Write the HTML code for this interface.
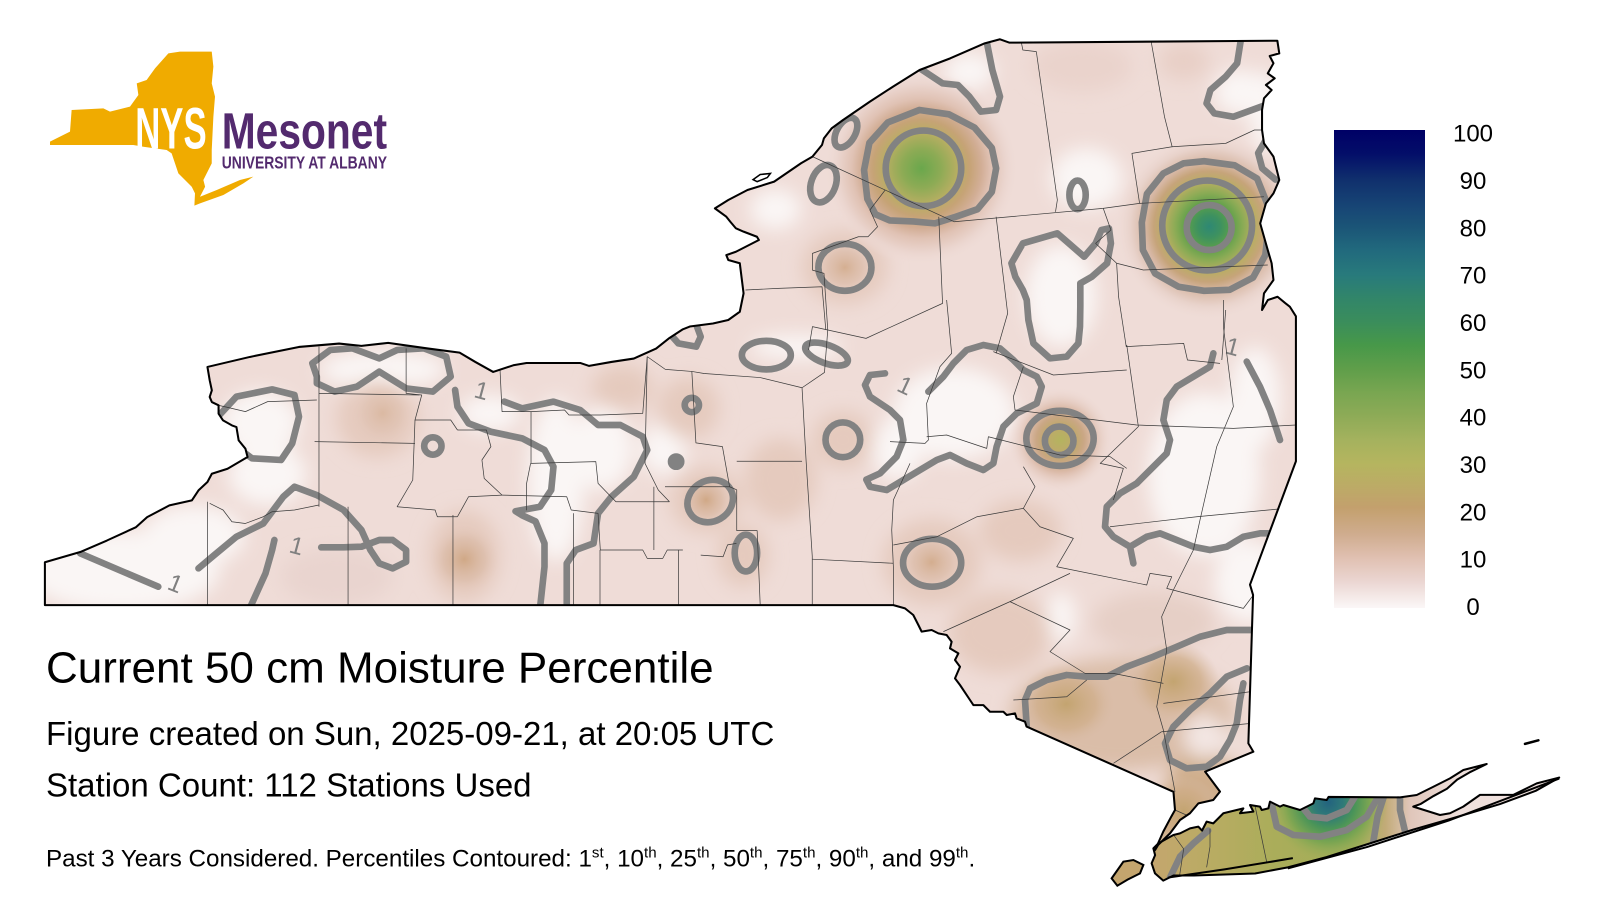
<!DOCTYPE html>
<html><head><meta charset="utf-8"><style>
html,body{margin:0;padding:0;background:#fff;}
svg{display:block;}
.ct{fill:none;stroke:#828282;stroke-width:6.5;stroke-linecap:round;stroke-linejoin:round;}
.cl{fill:none;stroke:#3a3a3a;stroke-width:0.7;stroke-linejoin:round;}
.lb{fill:#808080;font-family:"Liberation Sans",sans-serif;font-size:24px;}
</style></head><body>
<svg width="1600" height="900" viewBox="0 0 1600 900" xmlns="http://www.w3.org/2000/svg">
<defs>
<linearGradient id="cbar" x1="0" y1="0" x2="0" y2="1">
<stop offset="0" stop-color="#000066"/>
<stop offset="0.05" stop-color="#030e69"/>
<stop offset="0.105" stop-color="#10306d"/>
<stop offset="0.16" stop-color="#174575"/>
<stop offset="0.204" stop-color="#1b5577"/>
<stop offset="0.25" stop-color="#21697d"/>
<stop offset="0.3025" stop-color="#287a7c"/>
<stop offset="0.35" stop-color="#31856a"/>
<stop offset="0.40" stop-color="#3a8d5c"/>
<stop offset="0.45" stop-color="#479849"/>
<stop offset="0.5" stop-color="#5f9e4a"/>
<stop offset="0.55" stop-color="#79a651"/>
<stop offset="0.6" stop-color="#8eab57"/>
<stop offset="0.65" stop-color="#a5b25e"/>
<stop offset="0.6975" stop-color="#b5b55f"/>
<stop offset="0.745" stop-color="#bcab66"/>
<stop offset="0.79" stop-color="#c3a06d"/>
<stop offset="0.845" stop-color="#cfac8e"/>
<stop offset="0.895" stop-color="#e0c0b1"/>
<stop offset="0.945" stop-color="#ebd6d2"/>
<stop offset="1" stop-color="#fbf7f7"/>
</linearGradient>
<clipPath id="mclip"><path id="mainP" d="M44,551 L78.6,541 104.8,529.7 133.3,516.6 144.2,506.8 166,495.3 188,490.4 194.5,480.6 203.3,472.4 207.6,464.3 223,459.4 242.6,447.9 240.5,439.7 233.9,431.6 231.7,418.5 227.3,416.9 218.6,412 214.2,405.4 214.2,397.2 207.6,394 205.5,389 207.6,382.5 205.5,372.7 203.3,359.6 244.8,349.8 292.9,340 332.3,336.7 354.2,339 380.4,336 419.8,341.6 450.4,345.6 465.8,354.7 483.3,364.5 503,358 516,355.7 568.6,355.7 577.3,358.6 599.2,354.7 621.1,351.4 643,341.6 656.1,331.2 669.2,322.7 676,320 698.7,317 713.7,313.6 725,305.5 728.7,287.5 725,258 713.7,254.8 711.8,250 721.2,246.7 743.7,235.2 741.8,232 728.7,227 721.2,223.8 715.6,217.2 711.8,212.4 700.6,204.2 713.7,196 732.5,186.2 758.7,178 785,160 796.2,153.5 805.6,142 807.4,135.6 815,125.8 826.2,117.6 852.5,99.6 875,85 901.2,68.6 931.2,57.2 965,42.5 980,38.5 989.3,41.8 1251.8,39.9 1253.7,52.3 1244.3,54.9 1248,62 1242.4,71.9 1249.2,76.8 1240.6,83.3 1246.2,88.2 1238.7,96.4 1236.8,107.8 1236.8,127.4 1238.7,140.5 1248,153.5 1253.7,176.4 1248,189.5 1240.6,199.3 1235,218.9 1238.7,232 1242.4,245 1246.2,258 1248,274.4 1238.7,287.5 1236.8,303.8 1242.5,294 1252,290.8 1259.5,297 1264,300.5 1270,310 1270,452 1225,573 1228,583 1223.4,728.5 1228.3,736.7 1181,756.2 1195.6,775.8 1189,784 1174.4,787.3 1166.2,797 1156.4,803.6 1146.6,816.7 1135,828 1132,833 1140,815 1148,800 1151.5,793.8 1150,776 1006,712 1004.5,707.3 996.3,704 994.7,699.1 986.6,700.7 983.3,697.5 970.2,697.5 963.7,691 953.9,691 950.6,686 940.8,671.3 935.9,664.8 940.8,653.4 935.9,646.8 939.2,640.3 931,635.4 932.6,628.9 927.7,622.3 919.6,620.7 913,617.4 903.2,619 900,612.5 895,602.7 886.9,596.2 875.5,593 44,593 Z"/></clipPath>
<clipPath id="liclip"><path id="liP" d="M1130.3,831.4 L1135.2,826.5 1149.9,818.3 1156.4,816.7 1166.2,811.8 1174.4,810.1 1178,814 1182.5,805.2 1189,806.9 1198.9,797 1218.5,792.2 1215.2,797 1228.3,795.4 1225,788.9 1234.8,790.5 1236.5,793.8 1243,792.2 1244.6,785.6 1254.4,790.5 1257.7,788.9 1274,793.8 1287.1,787.3 1288.7,782.4 1300.2,784 1302,781 1372,781.4 1388.4,779.1 1404.7,771 1421,762.8 1434.1,754.6 1457,748.7 1440,757 1428,764 1418,773 1405,780 1392,788 1385,790.5 1411.2,798.7 1421,797 1434,790.5 1450.4,779 1483,779 1506,767.7 1528,762 1505,775 1470,788 1420,803 1385,813 1342.6,826.5 1300,840 1262,850 1230,856 1200,857 1170,858 1150,858 1140,863 1131.9,855.9 1128.6,846 1132,838 Z"/></clipPath>
<filter id="blur" filterUnits="userSpaceOnUse" x="0" y="0" width="1568" height="882"><feGaussianBlur stdDeviation="9"/></filter>
<radialGradient id="g1" gradientUnits="userSpaceOnUse" cx="903" cy="165" r="95">
<stop offset="0" stop-color="#6aa74c"/><stop offset="0.2" stop-color="#8dab55"/><stop offset="0.38" stop-color="#b9ae63"/><stop offset="0.5" stop-color="#c6a376"/><stop offset="0.62" stop-color="#d2ae96"/><stop offset="0.72" stop-color="#e0c2b4"/><stop offset="0.86" stop-color="#ead4cd"/><stop offset="1" stop-color="#efdcd7" stop-opacity="0"/>
</radialGradient>
<radialGradient id="g2" gradientUnits="userSpaceOnUse" cx="1185" cy="222" r="92">
<stop offset="0" stop-color="#2e8874"/><stop offset="0.12" stop-color="#3d9160"/><stop offset="0.24" stop-color="#5c9f4a"/><stop offset="0.36" stop-color="#8aab55"/><stop offset="0.48" stop-color="#b8ae62"/><stop offset="0.59" stop-color="#c6a47a"/><stop offset="0.68" stop-color="#d6b6a2"/><stop offset="0.84" stop-color="#e8d2ca"/><stop offset="1" stop-color="#efdcd7" stop-opacity="0"/>
</radialGradient>
<radialGradient id="g3" gradientUnits="userSpaceOnUse" cx="1039" cy="431" r="52">
<stop offset="0" stop-color="#b4b45e"/><stop offset="0.28" stop-color="#bfa86c"/><stop offset="0.45" stop-color="#caa785"/><stop offset="0.62" stop-color="#dcbcab"/><stop offset="1" stop-color="#efdcd7" stop-opacity="0"/>
</radialGradient>
<radialGradient id="gli" gradientUnits="userSpaceOnUse" cx="1302" cy="786" r="58">
<stop offset="0" stop-color="#23637f"/><stop offset="0.25" stop-color="#2f7a78"/><stop offset="0.45" stop-color="#4a9458"/><stop offset="0.7" stop-color="#7ea652"/><stop offset="1" stop-color="#9fae58" stop-opacity="0"/>
</radialGradient>
<linearGradient id="lig" gradientUnits="userSpaceOnUse" x1="1130" y1="0" x2="1530" y2="0">
<stop offset="0" stop-color="#c4a66e"/><stop offset="0.15" stop-color="#b8ac62"/><stop offset="0.3" stop-color="#aaad5a"/><stop offset="0.5" stop-color="#a2ae58"/><stop offset="0.57" stop-color="#c2ab78"/><stop offset="0.63" stop-color="#e0c6ba"/><stop offset="0.75" stop-color="#eedfdb"/><stop offset="1" stop-color="#f2e4e1"/>
</linearGradient>
<radialGradient id="tan" cx="0.5" cy="0.5" r="0.5"><stop offset="0" stop-color="#d0a886"/><stop offset="0.6" stop-color="#d9b9a4" stop-opacity="0.6"/><stop offset="1" stop-color="#e5cabe" stop-opacity="0"/></radialGradient>
<radialGradient id="tan2" cx="0.5" cy="0.5" r="0.5"><stop offset="0" stop-color="#c3a470"/><stop offset="0.6" stop-color="#cfad88" stop-opacity="0.7"/><stop offset="1" stop-color="#d8bba6" stop-opacity="0"/></radialGradient>
</defs>
<rect x="0" y="0" width="1600" height="900" fill="#fff"/>
<g transform="scale(1.020408)">
<!-- Logo -->
<path d="M49,138.8 L68.6,129 70.2,107.8 101.3,106.2 107.8,109.4 127.4,104.5 135.6,93.1 134,81.7 143.7,78.4 151.9,67 165,52.3 176.4,50.6 207.5,50.6 209.1,65.3 207.5,81.7 210.7,94.7 209.1,114.4 207.5,147 207.5,160.1 199.3,176.4 201,183 196,192.8 212.4,186.2 235.2,176.4 248.3,173.1 238.5,179.7 218.9,191.1 196,199.3 190.5,201.5 191.1,189.5 187.9,183 174.8,169.9 168.2,150.3 163.3,147 140.5,143.8 130.7,142.1 65.3,142.1 49,142.1 Z" fill="#f0ab00"/>
<text x="132.5" y="145.4" font-family="Liberation Sans,sans-serif" font-weight="bold" font-size="57" fill="#fff" textLength="70" lengthAdjust="spacingAndGlyphs">NYS</text>
<text x="217.3" y="145.4" font-family="Liberation Sans,sans-serif" font-weight="bold" font-size="50" fill="#532a6e" textLength="162" lengthAdjust="spacingAndGlyphs">Mesonet</text>
<text x="217.3" y="165" font-family="Liberation Sans,sans-serif" font-weight="bold" font-size="17.5" fill="#532a6e" textLength="162" lengthAdjust="spacingAndGlyphs">UNIVERSITY AT ALBANY</text>

<!-- Mainland fill -->
<g clip-path="url(#mclip)">
<rect x="0" y="0" width="1568" height="882" fill="#efdcd7"/>
<g filter="url(#blur)">
<g fill="#faf6f5">
<ellipse cx="120" cy="560" rx="95" ry="40"/><ellipse cx="255" cy="415" rx="38" ry="32"/><ellipse cx="375" cy="362" rx="62" ry="18"/>
<ellipse cx="545" cy="470" rx="28" ry="80"/><ellipse cx="480" cy="405" rx="30" ry="18"/><ellipse cx="190" cy="525" rx="50" ry="30"/>
<ellipse cx="650" cy="440" rx="22" ry="25"/><ellipse cx="935" cy="405" rx="60" ry="45"/><ellipse cx="880" cy="440" rx="25" ry="30"/>
<ellipse cx="1040" cy="290" rx="35" ry="50"/><ellipse cx="1180" cy="465" rx="55" ry="80"/><ellipse cx="1225" cy="570" rx="35" ry="40"/>
<ellipse cx="1215" cy="90" rx="25" ry="22"/><ellipse cx="950" cy="70" rx="25" ry="18"/><ellipse cx="1065" cy="175" rx="35" ry="30"/>
<ellipse cx="1040" cy="605" rx="14" ry="25"/><ellipse cx="1180" cy="720" rx="22" ry="25"/><ellipse cx="760" cy="205" rx="25" ry="20"/>
<ellipse cx="590" cy="440" rx="30" ry="40"/><ellipse cx="1230" cy="390" rx="25" ry="50"/><ellipse cx="780" cy="340" rx="45" ry="12"/>
<ellipse cx="262" cy="465" rx="38" ry="30"/><ellipse cx="1240" cy="110" rx="15" ry="40"/>
</g>
<g fill="#e5cabe">
<ellipse cx="370" cy="410" rx="40" ry="38"/><ellipse cx="455" cy="545" rx="35" ry="45"/><ellipse cx="692" cy="490" rx="35" ry="32"/>
<ellipse cx="675" cy="400" rx="30" ry="30"/><ellipse cx="610" cy="380" rx="30" ry="22"/><ellipse cx="828" cy="262" rx="42" ry="36"/>
<ellipse cx="826" cy="431" rx="30" ry="28"/><ellipse cx="913" cy="551" rx="48" ry="42"/><ellipse cx="765" cy="470" rx="35" ry="40"/>
<ellipse cx="728" cy="545" rx="25" ry="30"/><ellipse cx="1000" cy="520" rx="40" ry="30"/><ellipse cx="980" cy="620" rx="50" ry="40"/>
</g>
<ellipse cx="1060" cy="65" rx="50" ry="25" fill="#ead3cc"/><ellipse cx="1160" cy="60" rx="25" ry="18" fill="#e8cfc6"/>
<ellipse cx="330" cy="565" rx="55" ry="28" fill="#e9d4cf"/><ellipse cx="1130" cy="610" rx="60" ry="30" fill="#e6cfc6"/>
<ellipse cx="1100" cy="700" rx="110" ry="55" fill="#dabda8"/><ellipse cx="1180" cy="785" rx="40" ry="50" fill="#cfae8c"/>
<ellipse cx="1140" cy="805" rx="20" ry="22" fill="#c9a97a"/><ellipse cx="1180" cy="722" rx="20" ry="22" fill="#f3e6e3"/>
</g>
<ellipse cx="455" cy="548" rx="34" ry="34" fill="url(#tan)"/>
<ellipse cx="692" cy="490" rx="26" ry="26" fill="url(#tan)"/>
<ellipse cx="828" cy="262" rx="28" ry="26" fill="url(#tan)" opacity="0.8"/>
<ellipse cx="913" cy="551" rx="30" ry="28" fill="url(#tan)" opacity="0.85"/>
<ellipse cx="375" cy="405" rx="30" ry="30" fill="url(#tan)" opacity="0.5"/>
<ellipse cx="1045" cy="690" rx="48" ry="40" fill="url(#tan2)"/>
<ellipse cx="1150" cy="668" rx="45" ry="40" fill="url(#tan2)"/>
<ellipse cx="1160" cy="795" rx="35" ry="35" fill="url(#tan2)"/>
<circle cx="903" cy="165" r="95" fill="url(#g1)"/>
<circle cx="1185" cy="222" r="92" fill="url(#g2)"/>
<circle cx="1039" cy="431" r="52" fill="url(#g3)"/>
</g>
<!-- Staten & LI fill -->
<path d="M1089.4,860.8 L1100.9,844.4 1110.7,842.8 1120.5,847.7 1117.2,855.9 1105,862 1095,868 Z" fill="#c4a56e"/>
<g clip-path="url(#liclip)">
<rect x="1120" y="740" width="420" height="130" fill="url(#lig)"/>
<circle cx="1302" cy="786" r="58" fill="url(#gli)"/>
</g>

<!-- Contours -->
<g clip-path="url(#mclip)">
<g class="ct">
<polyline points="78.6,542.3 155.1,575"/>
<polyline points="194.5,557 210,544 231.7,526 258,513 277.6,486.8 288.6,477 310.5,485.2 336.7,499.8 354.2,519.4 363,539 371.7,552.1 384.8,557 398,550.5 398,539 384.8,529.2 371.7,529.2 354.2,535.8 336.7,536.4 314.8,536.4"/>
<polyline points="244.8,596 260.2,561.9 266.7,539 268.9,529.2"/>
<polygon points="310.5,369.1 306.1,356 323.6,343 345.5,341.4 371.7,351.2 389.2,343 415.5,341.4 437.3,349.5 441.7,369.1 424.2,383.8 398,380.6 371.7,364.2 349.8,378.9 328,383.8 310.5,375.6"/>
<polyline points="212,410 231.7,388.7 266.7,381.6 288.6,387.1 293,408.3 286.4,434.5 275.5,450.8 247,449.2 240,444"/>
<circle cx="424.2" cy="437.1" r="8.5"/>
<polyline points="446,382.2 448.3,398.5 459.2,414.9 481.1,423.1 511.7,429.6 533.6,441 542.4,457.4 540.2,480.2 529.2,496.6 511.7,499.8 505.2,501 511.7,505 524.8,511 533.6,532.5 533.6,555.4 529.2,596"/>
<polyline points="494.2,393.6 511.7,400.2 542.4,393.6 568.6,401.8 586.1,416.5 608,416.5 629.9,428 634.3,441 621.1,467.2 599.2,486.8 586.1,503.1 581.7,532.5 564.2,539 555.4,552.1 555.4,596"/>
<circle cx="662.6" cy="452.4" r="5" fill="#828282"/>
<circle cx="678" cy="396.9" r="7"/>
<ellipse cx="696" cy="491" rx="23" ry="20" transform="rotate(-30 696 491)"/>
<polyline points="656.1,326.7 664.8,336.5 682.3,339.7 686.7,330 682.3,318"/>
<ellipse cx="731" cy="542" rx="11" ry="18"/>
<circle cx="826" cy="431" r="17"/>
<ellipse cx="913.5" cy="551.5" rx="28.5" ry="23.5"/>
<ellipse cx="751" cy="348" rx="24" ry="14"/>
<ellipse cx="810" cy="347" rx="22" ry="9" transform="rotate(20 810 347)"/>
<ellipse cx="828" cy="262" rx="26" ry="23"/>
<ellipse cx="807" cy="180" rx="12" ry="19" transform="rotate(20 807 180)"/>
<ellipse cx="829" cy="130" rx="9" ry="16" transform="rotate(30 829 130)"/>
<circle cx="905" cy="165" r="37"/>
<polygon points="901,107.8 930,112 955,125 972,145 976.2,165 972,188 958,205 935,213 916.2,218.9 895,217 872,216 858,210 850,195 846.8,166.6 852,140 870,120"/>
<polyline points="900,66 923.7,81.7 938.7,83.3 950,94.7 961.2,109.4 976.2,107.8 980,94.7 972.5,68.6 966.8,40"/>
<ellipse cx="1056" cy="191" rx="8" ry="14"/>
<polygon points="991.2,258 1002.4,238.5 1036.2,228.7 1047.5,238.5 1062.5,251.6 1073.7,238.5 1079.4,225.4 1086.8,223.8 1088.7,238.5 1085,258 1070,271.2 1058.7,277.7 1058.7,300.6 1058.4,320 1056.8,336.5 1045.4,349.5 1029,351.2 1012.7,336.5 1007.8,313.6 1006.2,294 1002.4,284.2 995,271.2"/>
<polyline points="1216.2,38 1212.4,62 1201.2,75.1 1186.2,88.2 1182.4,101.3 1190,111.1 1208.7,114.4 1240,103"/>
<circle cx="1185" cy="223" r="22"/>
<circle cx="1183" cy="221" r="44"/>
<polygon points="1180,158 1210,162 1232,175 1242,200 1243,222 1240,250 1228,272 1205,284 1180,285 1155,281 1132,268 1120,245 1119,218 1124,190 1140,170 1160,160"/>
<polyline points="1240,138 1233,150 1237,165 1250,176"/>
<polyline points="1189.1,346.3 1185.8,359.3 1169.5,369.1 1153.2,378.9 1143.4,392 1140.1,411.6 1146.6,431.2 1143.4,444.3 1130.3,457.4 1114,473.7 1097.6,483.5 1084.6,496.6 1082.9,516.2 1091.1,526 1107.4,535.8 1110.7,552.1"/>
<polyline points="1107.4,535.8 1123.8,526 1136.8,522.7 1153.2,529.2 1169.5,535.8 1185.8,539 1202.2,535.8 1218.5,526 1234.8,522.7 1275,522.7"/>
<polyline points="1221.8,354.4 1234.8,379 1244.6,401.8 1251.2,421.4 1254.4,431.2"/>
<polyline points="909.8,383.8 924.5,369.1 934.3,356.1 947.3,343 963.7,338.1 980,341.4 993.1,352.8 1002.9,362.6 1016,369.1 1020.9,378.9 1016,395.3 996.4,405.1 983.3,418.1 976.7,437.7 973.5,454.1 963.7,460.6 947.3,454.1 931,445.9 918,450.8 901.6,460.6 885.3,470.4 869,480.2 852.6,477 849,470 862.4,463.9 878.7,447.5 885.3,431.2 882,411.6 872.2,401.8 852.6,388.7 847.7,377.3 852.6,367.5 867.3,365.9"/>
<ellipse cx="1038.8" cy="429.6" rx="33" ry="27"/>
<circle cx="1038" cy="432" r="14"/>
<polyline points="1230,617.4 1202.2,617.4 1176,624 1153.2,633.8 1130.3,643.6 1104.2,653.4 1084.6,663.2 1065,663.2 1045.4,661.5 1025.8,666.4 1009.4,674.6 1004.5,686 1006.2,712"/>
<polyline points="1222,655 1202.2,663.2 1185.8,679.5 1166.2,695.8 1149.9,712.2 1141.7,728.5 1146.6,744.9 1162.9,753 1182.5,751.4 1195.6,741.6 1205.4,725.3 1212,708.9 1215.2,686 1218.5,669.7"/>
</g>
</g>
<g clip-path="url(#liclip)">
<g class="ct">
<polyline points="1275.6,790 1283.8,800.3 1300.2,801.9 1319.8,793.8 1329.6,778"/>
<polyline points="1246.3,788 1251.2,810.1 1267.5,818.3 1293.6,820 1319.8,813.4 1339.4,800.3 1352.4,778"/>
<polyline points="1357,778 1350,800 1345,830"/>
<polyline points="1372,776 1372,793.8 1377,815"/>
<polyline points="1146.6,860 1156.4,839.5 1169.5,826.5 1184,814"/>
</g>
</g>

<!-- contour labels -->
<text class="lb" x="172" y="580" transform="rotate(22 172 572)" text-anchor="middle">1</text>
<text class="lb" x="291" y="543" transform="rotate(15 291 534)" text-anchor="middle">1</text>
<text class="lb" x="472" y="391" transform="rotate(15 472 383)" text-anchor="middle">1</text>
<text class="lb" x="887" y="386" transform="rotate(25 887 378)" text-anchor="middle">1</text>
<text class="lb" x="1208" y="348" transform="rotate(15 1208 340)" text-anchor="middle">1</text>

<!-- County lines -->
<g class="cl" clip-path="url(#mclip)">
<polyline points="203.3,491.7 203.3,593"/>
<polyline points="205.5,493.3 218.6,499.8 227.3,511.3 240.5,513 258,506.4 266.7,501.5 288.6,499.8 312.6,494.9"/>
<polyline points="341.1,496.6 341.1,593"/>
<polyline points="443.9,504.7 443.9,593"/>
<polyline points="205.5,395.3 222,399 240.5,403.4 262.3,393.6 310.5,392"/>
<polyline points="312.6,339.7 312.6,496.6"/>
<polyline points="308.3,432.8 406.7,434.5"/>
<polyline points="312.6,385.5 411.1,387.1"/>
<polyline points="398,341.4 398,385.5 413.3,387.1 406.7,411.6 441.7,411.6 448.3,421.4"/>
<polyline points="406.7,411.6 404.5,470.4 389.2,496.6 426.4,499.8 428.6,506.4 448.3,506.4"/>
<polyline points="448.3,421.4 476.7,421.4 481.1,437.7 472.3,450.8 474.5,468.8 492,485.2 459.2,486.8 448.3,506.4"/>
<polyline points="489.8,357.7 492,403.4 520.4,403.4 553.3,401.8 557.6,406.7 588.3,406.7 629.9,405.1 634.3,349.5"/>
<polyline points="520.4,403.4 520.4,454.1 583.9,452.4 586.1,473.7 603.6,491.7 642.9,491.7 656.1,491.7"/>
<polyline points="492,485.2 555.4,486.8 559.8,499.8 586.1,503.1 588.3,539 629.9,539 634.3,547.2 649.5,547.2 653.9,539 669.2,539"/>
<polyline points="562,503 562,593"/>
<polyline points="588,539 588,593"/>
<polyline points="665,539 665,593"/>
<polyline points="634.3,349.5 632.1,454.1 645.1,480.2 656.1,491.7"/>
<polyline points="634.3,349.5 652,362 678,364 690,366"/>
<polyline points="678,364 682,434 708,437.7 715,477 722,480"/>
<polyline points="651.7,477 715.1,477"/>
<polyline points="520,454 516,474 516,500"/>
<polyline points="640.8,477 640.8,539"/>
<polyline points="686.7,544 708.6,545.6 713,534 721.7,532.5"/>
<polyline points="722,480 722,520 742,520 745,593"/>
<polyline points="722,452 786,452"/>
<polyline points="690,366 745,370 786,380 790,452 796,545 796,593"/>
<polyline points="796,548 875.5,552"/>
<polyline points="786,380 808,365 811.2,323.4"/>
<polyline points="796.2,153.5 935,217.3 1081,204.2 1116.8,199.3 1238.7,192.8"/>
<polyline points="1000.6,40 1002.4,49 1015.6,50.6 1036.2,196 1034.4,207.6"/>
<polyline points="1128,40 1141.2,114.4 1148.7,143.8 1109.3,150.3 1116.8,199.3"/>
<polyline points="1148.7,143.8 1201.2,140.5 1229.3,127.4 1238.7,127.4"/>
<polyline points="867.5,186.2 852.5,205.8 860,222.2 850.6,232 841.2,232 796.2,248.3 796.2,264.7 807.5,267.9 811.2,323.4"/>
<polyline points="730.6,284.2 762.5,282.6 805.6,281 809.3,323.4"/>
<polyline points="920,212.4 923.7,297.3 848.7,331.6 796.2,320.1 792.4,343"/>
<polyline points="976.2,212.4 987.5,307.1 976.2,346.3"/>
<polyline points="1081.2,204.2 1088.7,225.4 1073.7,238.5 1094.3,258 1120.5,264.6 1242.4,259.7"/>
<polyline points="1094.3,258 1096.2,290.8 1103.7,339.7 1160,336.5 1163.7,352.8 1195.6,356.1"/>
<polyline points="1201.2,303.8 1197.4,352.8"/>
<polyline points="927.7,294 932.6,346.3 921.2,359.3 908.1,395.3 909.8,431.2 906.5,434.5 872.2,432.8"/>
<polyline points="973.5,344.6 1032.3,367.5 1104.2,362.6"/>
<polyline points="1002.9,359.3 993.1,388.7 994.7,401.8 1114,416.5 1208.7,419.8 1270,416.5"/>
<polyline points="1104.2,338.1 1115.6,418.1 1078.2,454.1 1100.9,459 1091.1,490"/>
<polyline points="908.1,428 927.7,426.3 967,439.4 968.6,428 1038.8,445.9 1087.8,447.5 1104.2,459"/>
<polyline points="1198.9,294 1198.9,320.1 1208.7,398.5 1192.4,437.7 1176,509.6 1169.5,539 1149.9,578.2 1138.4,604.4 1143.4,637 1133.6,692.6 1140.1,715.4 1151.5,775.9"/>
<polyline points="1087.8,516.2 1172.8,506.4 1260,498.2"/>
<polyline points="1002.9,498.2 1019.2,516.2 1051.9,527.6 1035.6,555.4 1123.8,573.3 1127,561.9 1148.3,565.2 1143.4,576.6 1218.5,596.2 1228.3,583.1"/>
<polyline points="875.5,534.1 918.2,526 957.5,506.4 1002.9,498.2 1014.3,477 1002.9,457.4"/>
<polyline points="875.5,593 875.5,555.4 873.9,519.4 875.5,490 891.8,454.1"/>
<polyline points="924.5,619 989.8,589.6 1048.6,561.9"/>
<polyline points="989.8,589.6 1048.6,617.4 1029,638.6 1063.3,659.9 1091.1,659.9 1140.1,669.7"/>
<polyline points="993.1,686 1045.4,682.8 1065,666.4"/>
<polyline points="1140.1,689.3 1225,677.9"/>
<polyline points="1138.4,717.1 1225,709"/>
<polyline points="1138.4,717.1 1091.1,748.1"/>
<polyline points="1151.5,793.8 1166.2,800.3"/>
</g>
<g class="cl" clip-path="url(#liclip)">
<polyline points="1230,790 1241.4,845"/>
<polyline points="1185.8,812 1185.8,829.7 1182.5,850"/>
<polyline points="1150,818 1160,832 1156,858"/>
</g>

<!-- Outlines -->
<use href="#mainP" fill="none" stroke="#000" stroke-width="2" stroke-linejoin="round"/>
<use href="#liP" fill="none" stroke="#000" stroke-width="2" stroke-linejoin="round"/>
<path d="M1089.4,860.8 L1100.9,844.4 1110.7,842.8 1120.5,847.7 1117.2,855.9 1105,862 1095,868 Z" fill="none" stroke="#000" stroke-width="2"/>
<polyline points="1145,860 1200,852 1267,841" fill="none" stroke="#000" stroke-width="2"/>
<polyline points="1262,851 1340,830 1420,804 1528,763" fill="none" stroke="#000" stroke-width="2"/>
<path d="M1494.5,729 L1507.6,725.5" stroke="#000" stroke-width="2.5" stroke-linecap="round"/>
<path d="M738,176 L745,171 755,170 752,174 742,178 Z" fill="#fff" stroke="#000" stroke-width="1.5"/>
</g>

<!-- Colorbar -->
<rect x="1334" y="130" width="91" height="478" fill="url(#cbar)"/>
<g font-family="Liberation Sans,sans-serif" font-size="24" fill="#000" text-anchor="middle">
<text x="1473" y="141.7">100</text>
<text x="1473" y="189">90</text>
<text x="1473" y="236.4">80</text>
<text x="1473" y="283.7">70</text>
<text x="1473" y="331">60</text>
<text x="1473" y="378.4">50</text>
<text x="1473" y="425.7">40</text>
<text x="1473" y="473">30</text>
<text x="1473" y="520.3">20</text>
<text x="1473" y="567.7">10</text>
<text x="1473" y="615">0</text>
</g>

<!-- Titles -->
<g font-family="Liberation Sans,sans-serif" fill="#000">
<text x="46" y="682.7" font-size="44">Current 50 cm Moisture Percentile</text>
<text x="46" y="745" font-size="33">Figure created on Sun, 2025-09-21, at 20:05 UTC</text>
<text x="46" y="796.7" font-size="33">Station Count: 112 Stations Used</text>
<text x="46" y="866.7" font-size="24.2">Past 3 Years Considered. Percentiles Contoured: 1<tspan dy="-9" font-size="15.1">st</tspan><tspan dy="9">, 10</tspan><tspan dy="-9" font-size="15.1">th</tspan><tspan dy="9">, 25</tspan><tspan dy="-9" font-size="15.1">th</tspan><tspan dy="9">, 50</tspan><tspan dy="-9" font-size="15.1">th</tspan><tspan dy="9">, 75</tspan><tspan dy="-9" font-size="15.1">th</tspan><tspan dy="9">, 90</tspan><tspan dy="-9" font-size="15.1">th</tspan><tspan dy="9">, and 99</tspan><tspan dy="-9" font-size="15.1">th</tspan><tspan dy="9">.</tspan></text>
</g>
</svg>
</body></html>
